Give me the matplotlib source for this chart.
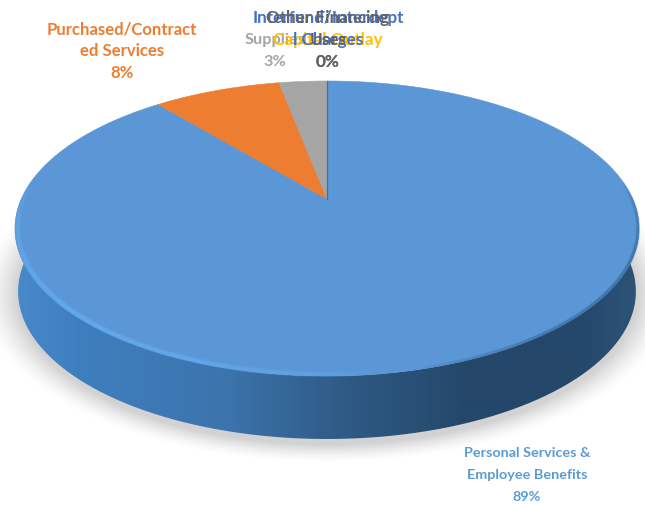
import numpy as np
import matplotlib
matplotlib.use("Agg")
import matplotlib.pyplot as plt
from matplotlib import font_manager as fm
from matplotlib.path import Path
from matplotlib.patches import PathPatch
from matplotlib.collections import LineCollection
from matplotlib.colors import LinearSegmentedColormap, to_rgb

# --- data ---
categories = ["Personal Services &\nEmployee Benefits", "Purchased/Contract\ned Services",
              "Supplies", "Capital Outlay", "Interfund/Interdept\nl Charges",
              "Other Financing\nUses"]
values = [89, 8, 3, 0, 0, 0]
colors = ["#5B97D6", "#ED7D31", "#A5A5A5", "#FFC000", "#4472C4", "#636363"]
label_pos = [(527, 497), (122, 73), (275, 62), (328, 62), (328, 62), (328, 62)]
label_size = [12.0, 12.1, 11.8, 12.3, 12.3, 12.3]

plt.rcParams['font.family'] = ['Lato', 'DejaVu Sans']
installed = {f.name for f in fm.fontManager.ttflist}
narrow = 'Liberation Sans Narrow' in installed
if not narrow:
    label_size[0] = 10.4

fig = plt.figure(figsize=(6.45, 5.06), dpi=100)
ax = fig.add_axes([0, 0, 1, 1])
ax.set_xlim(0, 645); ax.set_ylim(506, 0); ax.axis("off")

# perspective disc: apex and projection of the unit circle
cx, cy = 327, 200
k, a, b = 0.2, 141.6, 305.7
depth = 63

def proj(theta, r=1.0):
    x = r * np.sin(theta); y = r * np.cos(theta)
    d = 1 + k * y
    return cx + b * x / d, cy - a * y / d

# soft shadow beneath the disc
ex, ey, rx, ry = 327, 229.5, 312, 147.5
gx, gy = np.meshgrid(np.arange(0, 645), np.arange(0, 506))
dist = np.hypot((gx - ex) / (rx + 4), (gy - (ey + depth + 2)) / (ry + 6))
alpha = np.clip((1.10 - dist) / 0.12, 0, 1) ** 1.5 * 0.32
shadow = np.zeros(gx.shape + (4,))
shadow[..., :3] = 0.45
shadow[..., 3] = alpha
ax.imshow(shadow, extent=(0, 645, 506, 0), aspect="auto", zorder=1, interpolation="bilinear")

# side wall (its lower edge is a touch narrower than the top face)
t_low = np.linspace(np.pi / 2 - 0.02, 3 * np.pi / 2 + 0.02, 400)
xl, yl = proj(t_low)
xb = cx + (xl - cx) * 0.99
wall = np.vstack([np.column_stack([xl, yl]), np.column_stack([xb[::-1], yl[::-1] + depth])])
wall_patch = PathPatch(Path(np.vstack([wall, wall[0]])), fc="none", ec="none", zorder=2)
ax.add_patch(wall_patch)
cm = LinearSegmentedColormap.from_list("wall", [(0, "#4A8CCC"), (0.12, "#3F7FBF"), (0.35, "#3C74AD"),
                                                (0.52, "#305C88"), (0.72, "#24486A"), (0.9, "#24476A"),
                                                (1, "#2D5578")])
im = ax.imshow(np.linspace(0, 1, 645)[None, :], extent=(0, 645, 506, 0), aspect="auto",
               cmap=cm, zorder=2, interpolation="bilinear")
im.set_clip_path(wall_patch)

# top face wedges, clockwise from 12 o'clock
total = sum(values)
start = 0.0
for val, col in zip(values, colors):
    end = start + val / total * 2 * np.pi
    th = np.linspace(start, end, max(int(val * 8), 2))
    px, py = proj(th)
    ax.fill(np.r_[cx, px], np.r_[cy, py], fc=col, ec=col, lw=0.4, zorder=3)
    start = end
# hairline for the zero slices at the top
px, py = proj(0.0)
ax.plot([cx, px], [cy, py], color="#3F6DB0", lw=0.9, zorder=4)

# bevel: soft, tapered strokes on the rim of the top face
def rim_stroke(t0, t1, col, inset, widths, peak):
    t = np.linspace(t0, t1, 300)
    x, y = proj(t, inset)
    pts = np.column_stack([x, y])
    segs = np.stack([pts[:-1], pts[1:]], axis=1)
    u = np.linspace(0, 1, len(segs))
    for w in widths:
        rgba = np.zeros((len(segs), 4))
        rgba[:, :3] = to_rgb(col)
        rgba[:, 3] = np.sin(np.pi * u) ** 0.7 * peak
        ax.add_collection(LineCollection(segs, colors=rgba, linewidths=w, capstyle="butt", zorder=5))

rim_stroke(3.0, 4.85, "#66B0F5", 0.992, [4.0, 2.6, 1.4], 0.38)
rim_stroke(1.45, 2.9, "#2B5580", 0.997, [3.0, 1.6], 0.3)

# labels (back to front as they overlap)
for i in [0, 1, 2, 3, 4, 5]:
    x, y3 = label_pos[i]
    lines = categories[i].split("\n") + [f"{values[i]}%"]
    fam = ['Liberation Sans Narrow', 'DejaVu Sans'] if (i == 0 and narrow) else ['Lato', 'DejaVu Sans']
    for j, line in enumerate(reversed(lines)):
        ax.text(x, y3 - j * 22, line, color=colors[i] if i else "#5B9BD5", fontsize=label_size[i],
                family=fam, fontweight="bold", ha="center", va="center", zorder=10)

fig.savefig("out.png", dpi=100, facecolor="white")
